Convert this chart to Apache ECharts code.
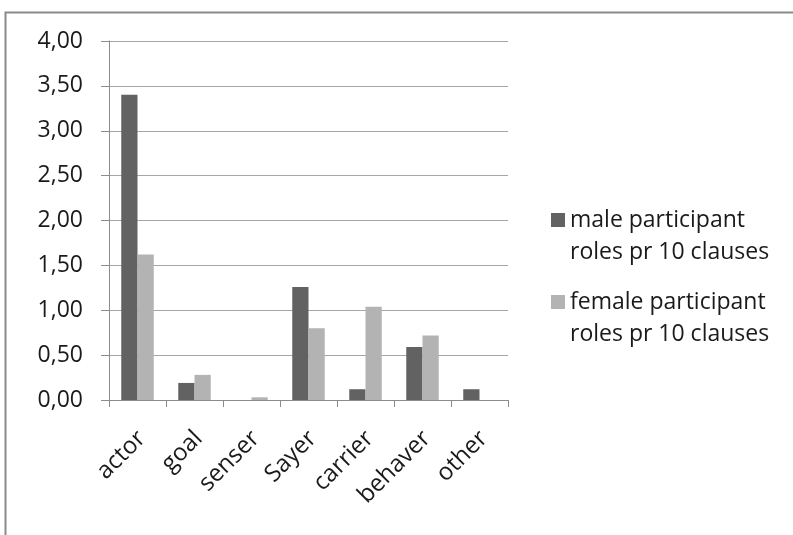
<!DOCTYPE html>
<html>
<head>
<meta charset="utf-8">
<script src="https://cdn.jsdelivr.net/npm/echarts@6/dist/echarts.min.js"></script>
<style>
  html, body { margin: 0; padding: 0; background: #fff; }
  #chart { width: 793px; height: 535px; }
</style>
</head>
<body>
<div id="chart"></div>
<script>
// Participant roles per 10 clauses, by gender
const categories = ['actor', 'goal', 'senser', 'Sayer', 'carrier', 'behaver', 'other'];
const maleValues = [3.40, 0.19, 0.00, 1.26, 0.12, 0.59, 0.12];
const femaleValues = [1.62, 0.28, 0.03, 0.80, 1.04, 0.72, 0.00];
const seriesNames = ['male participant\nroles pr 10 clauses', 'female participant\nroles pr 10 clauses'];
const yTicks = { min: 0, max: 4, interval: 0.5 };

const FONT = 'Open Sans';
const FS = 23;
const TEXT = '#1a1a1a';
const AXIS = '#8c8c8c';
const GRID = '#a6a6a6';

// a leading blank line keeps the swatch level with the first text line
const legendBase = {
  orient: 'vertical', left: 551, padding: 0,
  itemWidth: 14, itemHeight: 14, itemGap: 0, icon: 'rect',
  formatter: name => '\n' + name,
  textStyle: { fontFamily: FONT, fontSize: FS, color: TEXT, lineHeight: 32 }
};

const chart = echarts.init(document.getElementById('chart'), null, { renderer: 'canvas' });
chart.setOption({
  animation: false,
  backgroundColor: '#fff',
  graphic: [{
    type: 'rect', silent: true, z: -1,
    shape: { x: 5.5, y: 12.5, width: 820, height: 600 },
    style: { fill: 'none', stroke: '#8a8a8a', lineWidth: 2 }
  }],
  grid: { left: 109, right: 285, top: 41, bottom: 135, containLabel: false },
  legend: [
    Object.assign({ data: [seriesNames[0]], top: 172 }, legendBase),
    Object.assign({ data: [seriesNames[1]], top: 254 }, legendBase)
  ],
  xAxis: {
    type: 'category',
    data: categories,
    axisLine: { lineStyle: { color: AXIS, width: 1 } },
    axisTick: { show: true, length: 7, lineStyle: { color: AXIS } },
    axisLabel: {
      rotate: 45, margin: 39, interval: 0,
      padding: [0, -6, 0, 0],
      fontFamily: FONT, fontSize: 24, color: TEXT
    },
    splitLine: { show: false }
  },
  yAxis: {
    type: 'value',
    min: yTicks.min, max: yTicks.max, interval: yTicks.interval,
    axisLine: { show: true, lineStyle: { color: AXIS, width: 1 } },
    axisTick: { show: true, length: 8, lineStyle: { color: AXIS } },
    axisLabel: {
      margin: 26, fontFamily: FONT, fontSize: FS, color: TEXT,
      formatter: v => v.toFixed(2).replace('.', ',')
    },
    splitLine: { show: true, lineStyle: { color: GRID, width: 1 } }
  },
  series: [
    { name: seriesNames[0], type: 'bar', data: maleValues,
      barGap: '0%', barCategoryGap: '43%',
      itemStyle: { color: '#626262' } },
    { name: seriesNames[1], type: 'bar', data: femaleValues,
      barGap: '0%', barCategoryGap: '43%',
      itemStyle: { color: '#b3b3b3' } }
  ]
});
</script>
</body>
</html>
